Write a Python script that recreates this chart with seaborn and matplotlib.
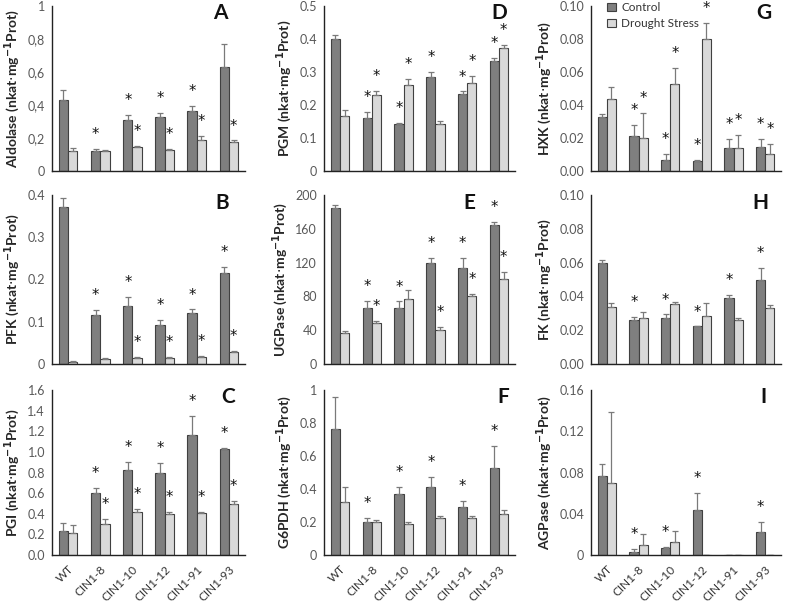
import matplotlib
matplotlib.use("Agg")
import matplotlib.pyplot as plt
from matplotlib.patches import Patch
import seaborn as sns
import pandas as pd

lines = ["WT", "CIN1-8", "CIN1-10", "CIN1-12", "CIN1-91", "CIN1-93"]
conditions = ["Control", "Drought Stress"]

# A - Aldolase
aldolase_ctrl = [0.43, 0.12, 0.31, 0.325, 0.365, 0.63]
aldolase_ctrl_err = [0.06, 0.015, 0.03, 0.025, 0.03, 0.14]
aldolase_dr = [0.12, 0.12, 0.145, 0.125, 0.19, 0.175]
aldolase_dr_err = [0.02, 0.01, 0.005, 0.01, 0.02, 0.01]
aldolase_sig_ctrl = [0, 1, 1, 1, 1, 0]
aldolase_sig_dr = [0, 0, 1, 1, 1, 1]
aldolase_ticks = [0, 0.2, 0.4, 0.6, 0.8, 1]
aldolase_ticklabels = ["0", "0,2", "0,4", "0,6", "0,8", "1"]

# B - PFK
pfk_ctrl = [0.372, 0.117, 0.138, 0.092, 0.121, 0.215]
pfk_ctrl_err = [0.02, 0.01, 0.021, 0.012, 0.008, 0.015]
pfk_dr = [0.005, 0.012, 0.015, 0.015, 0.017, 0.028]
pfk_dr_err = [0.001, 0.002, 0.001, 0.001, 0.001, 0.003]
pfk_sig_ctrl = [0, 1, 1, 1, 1, 1]
pfk_sig_dr = [0, 0, 1, 1, 1, 1]
pfk_ticks = [0, 0.1, 0.2, 0.3, 0.4]
pfk_ticklabels = ["0", "0.1", "0.2", "0.3", "0.4"]

# C - PGI
pgi_ctrl = [0.23, 0.60, 0.82, 0.80, 1.16, 1.03]
pgi_ctrl_err = [0.08, 0.05, 0.08, 0.09, 0.19, 0.005]
pgi_dr = [0.215, 0.30, 0.415, 0.40, 0.41, 0.49]
pgi_dr_err = [0.075, 0.05, 0.03, 0.015, 0.01, 0.03]
pgi_sig_ctrl = [0, 1, 1, 1, 1, 1]
pgi_sig_dr = [0, 1, 1, 1, 1, 1]
pgi_ticks = [0, 0.2, 0.4, 0.6, 0.8, 1.0, 1.2, 1.4, 1.6]
pgi_ticklabels = ["0.0", "0.2", "0.4", "0.6", "0.8", "1.0", "1.2", "1.4", "1.6"]

# D - PGM
pgm_ctrl = [0.40, 0.16, 0.143, 0.285, 0.233, 0.334]
pgm_ctrl_err = [0.012, 0.018, 0.002, 0.016, 0.008, 0.008]
pgm_dr = [0.166, 0.229, 0.26, 0.143, 0.268, 0.373]
pgm_dr_err = [0.018, 0.013, 0.02, 0.01, 0.02, 0.01]
pgm_sig_ctrl = [0, 1, 1, 1, 1, 1]
pgm_sig_dr = [0, 1, 1, 0, 1, 1]
pgm_ticks = [0, 0.1, 0.2, 0.3, 0.4, 0.5]
pgm_ticklabels = ["0", "0.1", "0.2", "0.3", "0.4", "0.5"]

# E - UGPase
ugp_ctrl = [185, 66, 66, 120, 114, 164]
ugp_ctrl_err = [3, 9, 8, 5, 11, 4]
ugp_dr = [37, 48.5, 77, 40.5, 80, 101]
ugp_dr_err = [1.5, 2, 11, 3, 2.5, 8]
ugp_sig_ctrl = [0, 1, 1, 1, 1, 1]
ugp_sig_dr = [0, 1, 0, 1, 1, 1]
ugp_ticks = [0, 40, 80, 120, 160, 200]
ugp_ticklabels = ["0", "40", "80", "120", "160", "200"]

# F - G6PDH
g6p_ctrl = [0.765, 0.20, 0.37, 0.415, 0.29, 0.53]
g6p_ctrl_err = [0.19, 0.025, 0.04, 0.06, 0.04, 0.13]
g6p_dr = [0.32, 0.197, 0.19, 0.227, 0.222, 0.25]
g6p_dr_err = [0.09, 0.015, 0.008, 0.008, 0.012, 0.025]
g6p_sig_ctrl = [0, 1, 1, 1, 1, 1]
g6p_sig_dr = [0, 0, 0, 0, 0, 0]
g6p_ticks = [0, 0.2, 0.4, 0.6, 0.8, 1]
g6p_ticklabels = ["0", "0.2", "0.4", "0.6", "0.8", "1"]

# G - HXK
hxk_ctrl = [0.033, 0.0215, 0.0068, 0.0062, 0.014, 0.0148]
hxk_ctrl_err = [0.0015, 0.0065, 0.0038, 0.0005, 0.0055, 0.0045]
hxk_dr = [0.0435, 0.020, 0.053, 0.080, 0.014, 0.0103]
hxk_dr_err = [0.0075, 0.015, 0.0095, 0.0095, 0.008, 0.006]
hxk_sig_ctrl = [0, 1, 1, 1, 1, 1]
hxk_sig_dr = [0, 1, 1, 1, 1, 1]
hxk_ticks = [0, 0.02, 0.04, 0.06, 0.08, 0.10]
hxk_ticklabels = ["0.00", "0.02", "0.04", "0.06", "0.08", "0.10"]

# H - FK
fk_ctrl = [0.060, 0.026, 0.0275, 0.0222, 0.0393, 0.050]
fk_ctrl_err = [0.0015, 0.002, 0.0018, 0.0, 0.0018, 0.007]
fk_dr = [0.034, 0.0275, 0.0357, 0.0283, 0.026, 0.033]
fk_dr_err = [0.002, 0.003, 0.001, 0.008, 0.001, 0.002]
fk_sig_ctrl = [0, 1, 1, 1, 1, 1]
fk_sig_dr = [0, 0, 0, 0, 0, 0]
fk_ticks = [0, 0.02, 0.04, 0.06, 0.08, 0.10]
fk_ticklabels = ["0.00", "0.02", "0.04", "0.06", "0.08", "0.10"]

# I - AGPase
agp_ctrl = [0.077, 0.003, 0.0065, 0.0435, 0.0, 0.0225]
agp_ctrl_err = [0.011, 0.003, 0.0015, 0.017, 0.0, 0.0095]
agp_dr = [0.070, 0.010, 0.0125, 0.0, 0.0, 0.0]
agp_dr_err = [0.069, 0.0105, 0.0105, 0.0, 0.0, 0.0]
agp_sig_ctrl = [0, 1, 1, 1, 0, 1]
agp_sig_dr = [0, 0, 0, 0, 0, 0]
agp_ticks = [0, 0.04, 0.08, 0.12, 0.16]
agp_ticklabels = ["0", "0.04", "0.08", "0.12", "0.16"]

panels = [
    ("A", "Aldolase", aldolase_ctrl, aldolase_ctrl_err, aldolase_dr, aldolase_dr_err,
     aldolase_sig_ctrl, aldolase_sig_dr, aldolase_ticks, aldolase_ticklabels),
    ("B", "PFK", pfk_ctrl, pfk_ctrl_err, pfk_dr, pfk_dr_err,
     pfk_sig_ctrl, pfk_sig_dr, pfk_ticks, pfk_ticklabels),
    ("C", "PGI", pgi_ctrl, pgi_ctrl_err, pgi_dr, pgi_dr_err,
     pgi_sig_ctrl, pgi_sig_dr, pgi_ticks, pgi_ticklabels),
    ("D", "PGM", pgm_ctrl, pgm_ctrl_err, pgm_dr, pgm_dr_err,
     pgm_sig_ctrl, pgm_sig_dr, pgm_ticks, pgm_ticklabels),
    ("E", "UGPase", ugp_ctrl, ugp_ctrl_err, ugp_dr, ugp_dr_err,
     ugp_sig_ctrl, ugp_sig_dr, ugp_ticks, ugp_ticklabels),
    ("F", "G6PDH", g6p_ctrl, g6p_ctrl_err, g6p_dr, g6p_dr_err,
     g6p_sig_ctrl, g6p_sig_dr, g6p_ticks, g6p_ticklabels),
    ("G", "HXK", hxk_ctrl, hxk_ctrl_err, hxk_dr, hxk_dr_err,
     hxk_sig_ctrl, hxk_sig_dr, hxk_ticks, hxk_ticklabels),
    ("H", "FK", fk_ctrl, fk_ctrl_err, fk_dr, fk_dr_err,
     fk_sig_ctrl, fk_sig_dr, fk_ticks, fk_ticklabels),
    ("I", "AGPase", agp_ctrl, agp_ctrl_err, agp_dr, agp_dr_err,
     agp_sig_ctrl, agp_sig_dr, agp_ticks, agp_ticklabels),
]

# where the panel letter sits (axes fraction x)
letter_x = {"A": 0.87, "B": 0.88, "C": 0.91, "D": 0.92, "E": 0.76,
            "F": 0.94, "G": 0.91, "H": 0.89, "I": 0.91}

sns.set_style("white")
plt.rcParams['font.family'] = ['Lato', 'DejaVu Sans']

ctrl_color = "#7f7f7f"
dr_color = "#d9d9d9"
edge_color = "#404040"
err_color = "#7a7a7a"
palette = {"Control": ctrl_color, "Drought Stress": dr_color}

fig = plt.figure(figsize=(7.89, 6.08), dpi=100)

# axes boxes in pixels: left, right per column; top, bottom per row
col_px = [(52, 245), (324, 515), (591, 781)]
row_px = [(6, 171), (195, 364), (390, 555)]
W, H = 789, 608

for i, (letter, name, c, ce, d, de, sc, sd, ticks, tlabels) in enumerate(panels):
    col = i // 3
    row = i % 3
    x0, x1 = col_px[col]
    y0, y1 = row_px[row]
    ax = fig.add_axes([x0 / W, 1 - y1 / H, (x1 - x0) / W, (y1 - y0) / H])

    df = pd.DataFrame({
        "line": lines * 2,
        "condition": [conditions[0]] * 6 + [conditions[1]] * 6,
        "value": c + d,
    })
    sns.barplot(data=df, x="line", y="value", hue="condition", order=lines,
                hue_order=conditions, palette=palette, errorbar=None,
                width=0.58, edgecolor=edge_color, linewidth=0.8, ax=ax, legend=False)

    top = ticks[-1]
    for cont, vals, errs, sig in zip(ax.containers, [c, d], [ce, de], [sc, sd]):
        xs = [b.get_x() + b.get_width() / 2 for b in cont]
        ax.errorbar(xs, vals, yerr=[[0] * 6, errs], fmt="none", ecolor=err_color,
                    elinewidth=0.9, capsize=2.5, capthick=0.9)
        for x, v, e, s in zip(xs, vals, errs, sig):
            if s:
                ax.annotate("*", (x, v + e), xytext=(0, 5), textcoords="offset points",
                            ha="center", va="bottom", fontsize=10.5, color="#111111",
                            family="DejaVu Sans", annotation_clip=False)

    ax.set_ylim(0, top)
    ax.set_xlim(-0.5, 5.5)
    ax.set_yticks(ticks)
    ax.set_yticklabels(tlabels)
    ax.set_xticks([k - 0.5 for k in range(7)], minor=False)
    ax.set_xticklabels([])
    ax.set_xticks(range(6), minor=True)
    if row == 2:
        ax.set_xticklabels(lines, minor=True, rotation=45, ha="right",
                           rotation_mode="anchor", fontsize=8.5, color="#333333")
    ax.tick_params(axis="x", which="minor", length=0, pad=6)
    ax.tick_params(axis="x", which="major", direction="out", length=4, width=1)
    ax.tick_params(axis="y", direction="out", length=3, width=1, labelsize=9,
                   labelcolor="#595959", pad=2)
    sns.despine(ax=ax)
    for sp in ["left", "bottom"]:
        ax.spines[sp].set_color("#222222")
        ax.spines[sp].set_linewidth(1)

    ax.set_xlabel("")
    ax.set_ylabel(name + r" (nkat$\cdot$mg$^{\mathbf{-1}}$Prot)", fontsize=10,
                  fontweight="bold", labelpad=4)
    ax.text(letter_x[letter], 0.955, letter, transform=ax.transAxes, ha="center",
            va="center", fontsize=15, fontweight="bold", color="#111111")

    if letter == "G":
        handles = [Patch(facecolor=ctrl_color, edgecolor=edge_color, linewidth=0.8),
                   Patch(facecolor=dr_color, edgecolor=edge_color, linewidth=0.8)]
        ax.legend(handles, conditions, loc="upper left", bbox_to_anchor=(0.03, 1.09),
                  frameon=False, handlelength=0.7, handleheight=0.7,
                  handletextpad=0.5, labelspacing=0.45, fontsize=8.5,
                  labelcolor="#333333")

fig.savefig("out.png", dpi=100)
